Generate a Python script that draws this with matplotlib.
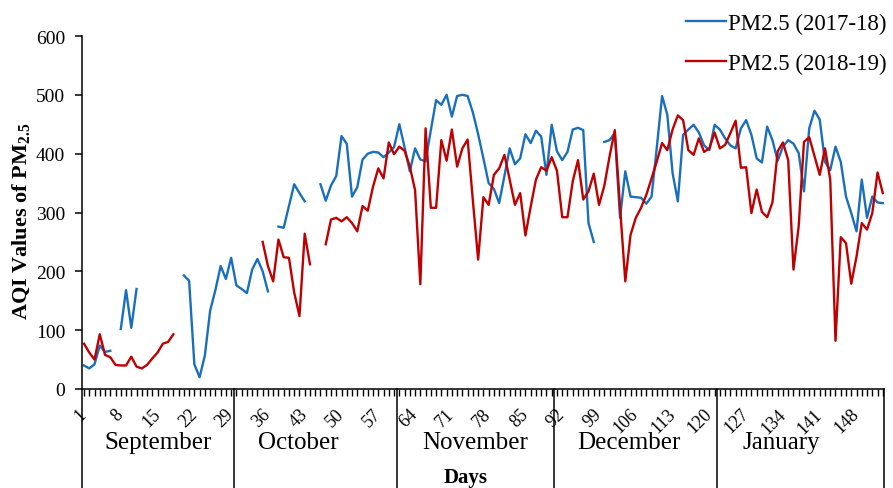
import numpy as np
import matplotlib.pyplot as plt
from matplotlib.transforms import blended_transform_factory

# Times-like look
plt.rcParams["font.family"] = "Liberation Serif"
plt.rcParams["mathtext.fontset"] = "custom"
plt.rcParams["mathtext.rm"] = "Liberation Serif"
plt.rcParams["mathtext.bf"] = "Liberation Serif:bold"

N = None  # no data that day

# --- daily AQI values, day 1 = 1 September ---
days = np.arange(1, 154)

pm25_2017_18 = [
    # September (1-30)
    40, 35, 42, 74, 63, 65, N, 102, 168, 104, 170, N, N, N, N, N, N, N, N, 193,
    184, 42, 20, 57, 133, 168, 209, 187, 223, 176,
    # October (31-61)
    170, 163, 203, 221, 200, 166, N, 276, 274, 311, 348, 333, 319, N, N, 348,
    320, 346, 362, 430, 417, 327, 343, 390, 400, 403, 402, 394, 402, 411, 450,
    # November (62-91)
    411, 370, 409, 390, 387, 440, 491, 483, 500, 463, 498, 500, 498, 470, 433,
    392, 350, 340, 316, 362, 409, 382, 392, 433, 418, 439, 429, 364, 449, 404,
    # December (92-122)
    389, 403, 441, 444, 440, 282, 250, N, 420, 423, 435, 291, 370, 327, 326,
    325, 315, 327, 411, 498, 466, 367, 319, 432, 441, 449, 436, 414, 406, 449, 441,
    # January (123-153)
    426, 414, 409, 443, 457, 432, 392, 385, 446, 423, 388, 412, 423, 417, 401,
    336, 443, 473, 458, 386, 372, 412, 386, 327, 299, 268, 356, 291, 327, 317, 316,
]

pm25_2018_19 = [
    # September (1-30)
    77, 62, 50, 93, 58, 54, 41, 40, 40, 55, 38, 35, 41, 52, 62, 77, 80, 93, N, N,
    N, N, N, N, N, N, N, N, N, N,
    # October (31-61)
    N, N, N, N, 250, 209, 183, 254, 224, 223, 164, 124, 264, 212, N, N, 246, 288,
    291, 285, 292, 282, 268, 311, 303, 344, 375, 358, 419, 399, 412,
    # November (62-91)
    405, 378, 338, 178, 443, 308, 308, 423, 388, 441, 378, 409, 424, 320, 220,
    326, 313, 364, 375, 398, 356, 313, 333, 261, 310, 356, 377, 371, 394, 371,
    # December (92-122)
    292, 292, 353, 389, 322, 336, 366, 313, 345, 395, 440, 310, 183, 262, 291,
    308, 330, 358, 387, 418, 406, 441, 465, 457, 406, 398, 426, 403, 409, 436, 409,
    # January (123-153)
    415, 435, 456, 376, 377, 299, 339, 301, 292, 317, 404, 419, 389, 203, 277,
    420, 428, 396, 364, 409, 356, 82, 258, 248, 179, 225, 282, 271, 299, 368, 333,
]

series_labels = ["PM2.5 (2017-18)", "PM2.5 (2018-19)"]
series_colors = ["#1a6fbd", "#c00000"]

tick_days = list(range(1, 154, 7))
months = ["September", "October", "November", "December", "January"]
month_text_x = [15.1, 41.7, 75.4, 104.7, 133.6]
month_edges = [29.6, 60.5, 90.5, 121.4]

fig = plt.figure(figsize=(8.93, 4.89), dpi=100)
ax = fig.add_axes([82 / 893, 99 / 489, 802 / 893, 353 / 489])

lines = []
for vals, label, color in zip([pm25_2017_18, pm25_2018_19], series_labels, series_colors):
    y = np.array(vals, dtype=float)
    (ln,) = ax.plot(days, y, color=color, linewidth=1.7, label=label)
    lines.append(ln)

ax.set_xlim(0.62, 153.23)
ax.set_ylim(0, 600)
ax.set_yticks(range(0, 601, 100))
ax.set_xticks(tick_days)
ax.set_xticks(days, minor=True)

for side in ["top", "right"]:
    ax.spines[side].set_visible(False)
for side in ["left", "bottom"]:
    ax.spines[side].set_linewidth(1.1)

ax.tick_params(axis="y", direction="out", length=5, width=1.1, labelsize=14, pad=7)
ax.tick_params(axis="x", which="both", direction="out", length=5, width=1.0)
ax.tick_params(axis="x", labelsize=13, pad=11)
plt.setp(ax.get_xticklabels(), rotation=45, ha="right", va="center", rotation_mode="anchor")

# month table below the axis
trans = blended_transform_factory(ax.transData, ax.transAxes)
bottom = -99 / 353
for xb in month_edges:
    ax.plot([xb, xb], [0, bottom], transform=trans, color="black", lw=1.1, clip_on=False)
for xb in [0, 1]:
    ax.plot([xb, xb], [0, bottom], transform=ax.transAxes, color="black", lw=1.1, clip_on=False)
for name, xm in zip(months, month_text_x):
    ax.text(xm, -0.167, name, transform=trans, ha="center", va="baseline", fontsize=18)
ax.text(73.7, -0.263, "Days", transform=trans, ha="center", va="baseline",
        fontsize=15, fontweight="bold")

ax.set_ylabel(r"AQI Values of PM$_{\mathbf{2.5}}$", fontsize=16, fontweight="bold")
ax.yaxis.set_label_coords(-0.061, 0.479)

fig.legend(handles=lines, loc="upper left", bbox_to_anchor=(686 / 893, 0.972),
           frameon=False, fontsize=16.5, handlelength=1.75, handletextpad=0.1,
           labelspacing=0.83, borderpad=0, borderaxespad=0)

plt.savefig("out.png", dpi=100)
